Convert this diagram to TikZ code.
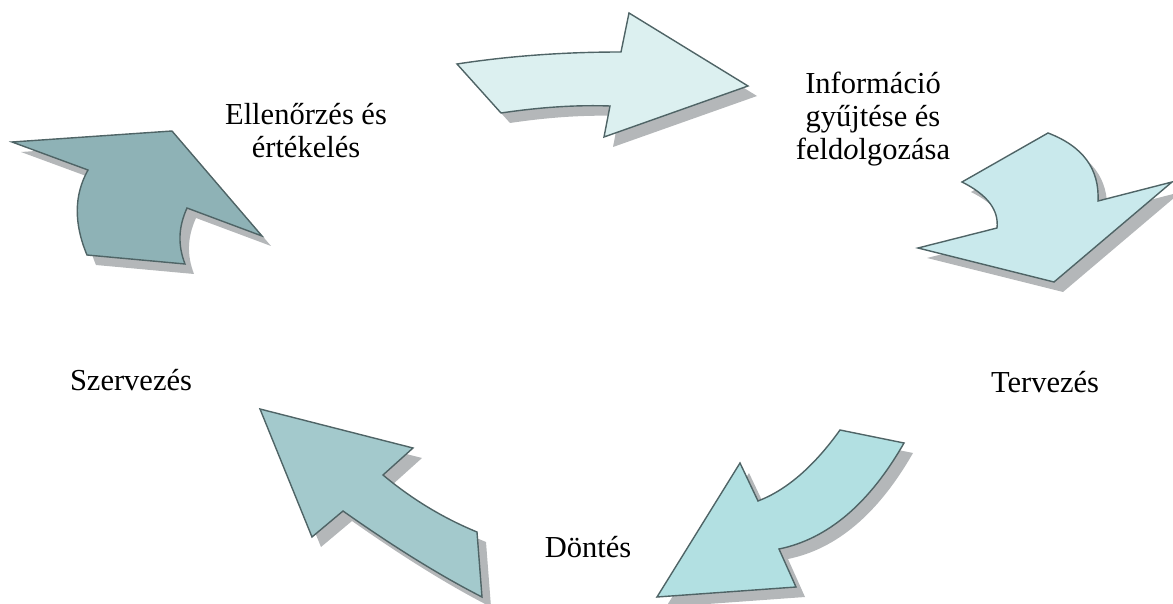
\documentclass[tikz,border=0pt]{standalone}
\usepackage{fontspec}
\setmainfont{Liberation Serif}
\begin{document}
\begin{tikzpicture}[x=1pt,y=-1pt,
  shapeline/.style={draw=edgecol,line width=1.4pt,line join=miter},
  shadowfill/.style={fill=shadowcol,draw=none},
  lbl/.style={font=\fontsize{30.5}{33}\selectfont,align=center,inner sep=0pt,anchor=base}]
\definecolor{edgecol}{HTML}{4F6466}
\definecolor{shadowcol}{HTML}{B4B7B9}
\definecolor{aone}{HTML}{DCF0F0}
\definecolor{atwo}{HTML}{C9E9EC}
\definecolor{athree}{HTML}{B2E0E2}
\definecolor{afour}{HTML}{A3C9CC}
\definecolor{afive}{HTML}{8EB2B6}
\useasboundingbox (0,0) rectangle (1173,604);
% shapes: each drawn once as shadow (shifted) and once as the arrow
\def\arrowone{(457,64) .. controls (509,56) and (563.7,52) .. (621,52) -- (629,13) -- (748,86) -- (604,137) -- (610,106) .. controls (573.3,104.7) and (537,107.7) .. (501,113) -- cycle}
\def\arrowtwo{(1048,133) .. controls (1082.9,146.3) and (1099.6,169) .. (1098,201) -- (1172,182) -- (1054,282) -- (918,248) -- (997,228) .. controls (999,210) and (987.3,194.7) .. (962,182) -- cycle}
\def\arrowthree{(840,430) -- (904,443) .. controls (869.3,503.7) and (827.7,539) .. (779,549) -- (796,587) -- (657,597) -- (740,463) -- (758,501) .. controls (786.7,490) and (814,466.3) .. cycle}
\def\arrowfour{(260,409) -- (413,448) -- (383,475) .. controls (411.7,499) and (443,518) .. (477,532) -- (482,597) .. controls (441.3,576.3) and (395,547.7) .. (343,511) -- (312,537) -- cycle}
\def\arrowfive{(12,142) -- (172,131) -- (262,236) -- (187,208) .. controls (178.3,227.3) and (177.7,245) .. (185,264) -- (87,255) .. controls (73.7,223.3) and (74,195) .. (88,170) -- cycle}
\begin{scope}[shift={(9,10)}]
  \fill[shadowfill] \arrowone;
  \fill[shadowfill] \arrowtwo;
  \fill[shadowfill] \arrowthree;
  \fill[shadowfill] \arrowfour;
  \fill[shadowfill] \arrowfive;
\end{scope}
\filldraw[shapeline,fill=aone] \arrowone;
\filldraw[shapeline,fill=atwo] \arrowtwo;
\filldraw[shapeline,fill=athree] \arrowthree;
\filldraw[shapeline,fill=afour] \arrowfour;
\filldraw[shapeline,fill=afive] \arrowfive;
% labels (base anchor of a multi-line node = last line's baseline)
\node[lbl] (info) at (873,160) {Információ\\gyűjtése és\\feld\textit{o}lgozása};
\node[lbl] (terv) at (1045,392) {Tervezés};
\node[lbl] (dont) at (588,557) {Döntés};
\node[lbl] (szerv) at (131,390) {Szervezés};
\node[lbl] (ell) at (306,158) {Ellenőrzés és\\értékelés};
\end{tikzpicture}
\end{document}
